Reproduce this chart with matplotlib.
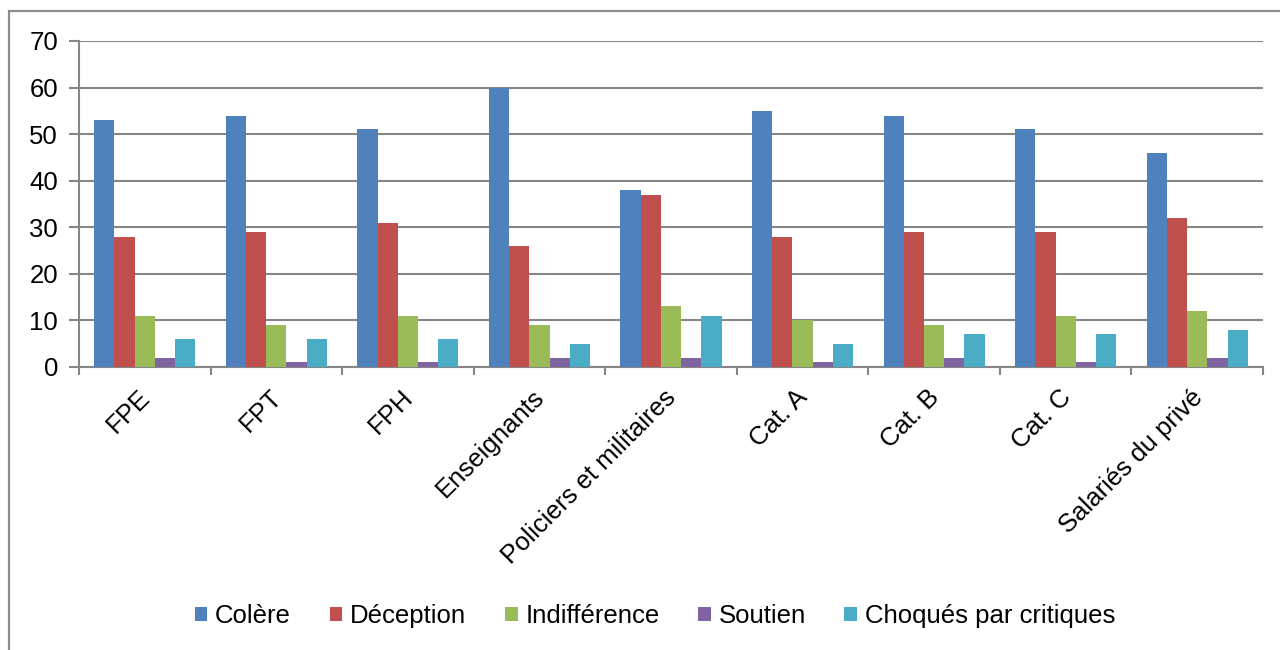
import matplotlib
matplotlib.use("Agg")
import matplotlib.pyplot as plt
import numpy as np
from matplotlib.patches import Rectangle

categories = ["FPE", "FPT", "FPH", "Enseignants", "Policiers et militaires",
              "Cat. A", "Cat. B", "Cat. C", "Salariés du privé"]
series_names = ["Colère", "Déception", "Indifférence", "Soutien", "Choqués par critiques"]
colere = [53, 54, 51, 60, 38, 55, 54, 51, 46]
deception = [28, 29, 31, 26, 37, 28, 29, 29, 32]
indifference = [11, 9, 11, 9, 13, 10, 9, 11, 12]
soutien = [2, 1, 1, 2, 2, 1, 2, 1, 2]
choques = [6, 6, 6, 5, 11, 5, 7, 7, 8]
yticks = [0, 10, 20, 30, 40, 50, 60, 70]

series = [colere, deception, indifference, soutien, choques]
colors = ["#4F81BD", "#C0504D", "#9BBB59", "#8064A2", "#4BACC6"]

plt.rcParams['font.family'] = ['Liberation Sans', 'DejaVu Sans']
FS = 18.5
W, H = 1280, 650
fig = plt.figure(figsize=(W / 100, H / 100), dpi=100)

# outer chart border (only left and top visible)
fig.patches.append(Rectangle((9 / W, -0.2), 1.2, 1.2 - 11 / H,
                             transform=fig.transFigure, fill=False,
                             edgecolor="#8C8C8C", linewidth=1.6, zorder=0))

ax_l, ax_r, ax_t, ax_b = 79, 1263, 41, 367
ax = fig.add_axes([ax_l / W, 1 - ax_b / H, (ax_r - ax_l) / W, (ax_b - ax_t) / H])

n = len(categories)
bw = 1 / 6.5
x = np.arange(n)
for i, (vals, c, name) in enumerate(zip(series, colors, series_names)):
    ax.bar(x + 0.5 - 2.5 * bw + (i + 0.5) * bw, vals, width=bw, color=c,
           label=name, zorder=3, linewidth=0)

ax.set_xlim(0, n)
ax.set_ylim(0, 70)
ax.set_yticks(yticks)
ax.yaxis.grid(True, color="#868686", linewidth=1.5, zorder=0)
ax.set_axisbelow(True)
for s in ["top", "right"]:
    ax.spines[s].set_visible(False)
for s in ["left", "bottom"]:
    ax.spines[s].set_color("#868686")
    ax.spines[s].set_linewidth(1.5)
ax.tick_params(axis="y", length=7, width=1.5, color="#868686", labelsize=FS, pad=8)
ax.set_xticks(np.arange(n + 1))
ax.set_xticklabels([])
ax.tick_params(axis="x", length=6, width=1.5, color="#868686", direction="out")

for i, cat in enumerate(categories):
    ax.annotate(cat, xy=(i + 0.5, 0), xycoords="data",
                xytext=(-7, -18), textcoords="offset pixels",
                rotation=45, ha="right", va="top", rotation_mode="anchor",
                fontsize=FS)

handles, labels = ax.get_legend_handles_labels()
fig.legend(handles, labels, loc="center", bbox_to_anchor=(655 / W, 1 - 616 / H),
           ncol=5, frameon=False, fontsize=FS, handlelength=0.5,
           handleheight=0.5, handletextpad=0.3, columnspacing=1.5)

fig.savefig("out.png", dpi=100)
